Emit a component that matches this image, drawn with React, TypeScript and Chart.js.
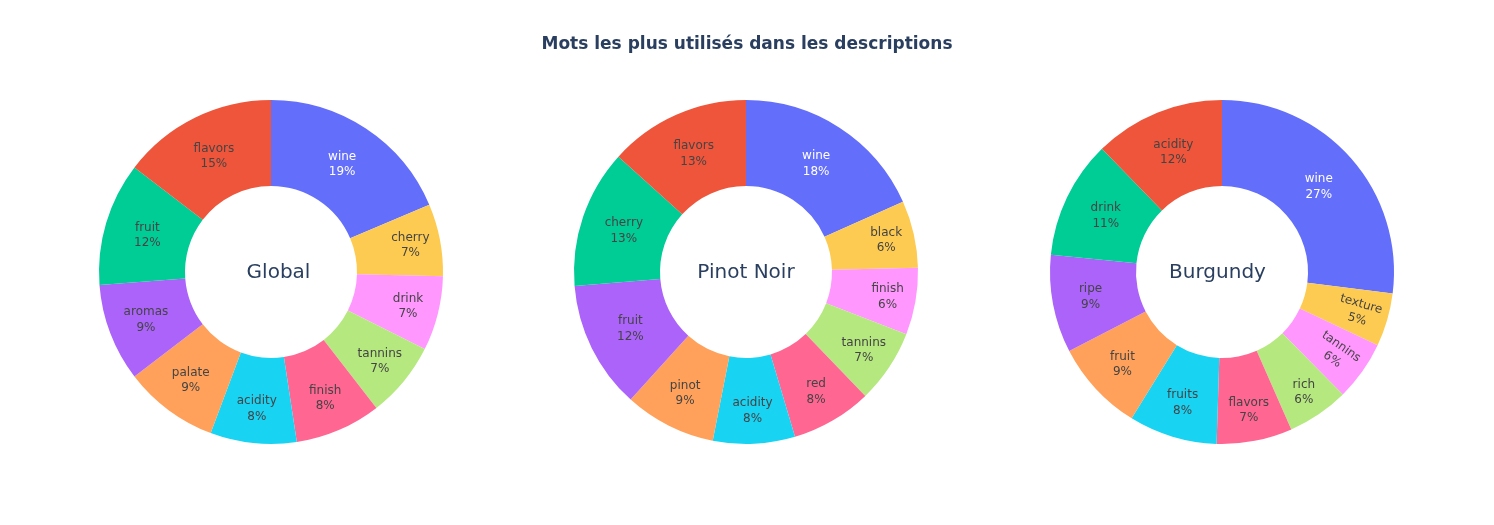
import React, { useEffect, useRef } from "react";
import { Chart, registerables } from "chart.js";

Chart.register(...registerables);

// ---- data (slices listed clockwise from 12 o'clock) ----
const titleText = "Mots les plus utilisés dans les descriptions";
const chartNames = ["Global", "Pinot Noir", "Burgundy"];

const globalWords = ["wine", "cherry", "drink", "tannins", "finish", "acidity", "palate", "aromas", "fruit", "flavors"];
const globalShares = [18.6, 6.8, 7.0, 7.1, 8.1, 8.1, 8.9, 9.2, 11.6, 14.6];

const pinotWords = ["wine", "black", "finish", "tannins", "red", "acidity", "pinot", "fruit", "cherry", "flavors"];
const pinotShares = [18.3, 6.3, 6.3, 6.9, 7.6, 7.7, 8.6, 12.0, 13.0, 13.3];

const burgundyWords = ["wine", "texture", "tannins", "rich", "flavors", "fruits", "fruit", "ripe", "drink", "acidity"];
const burgundyShares = [27.0, 5.0, 5.6, 5.8, 7.1, 8.3, 8.6, 9.2, 11.1, 12.3];

const sliceColors = ["#636efa", "#FECB52", "#FF97FF", "#B6E880", "#FF6692", "#19d3f3", "#FFA15A", "#ab63fa", "#00cc96", "#EF553B"];

// ---- layout ----
const W = 1494;
const H = 525;
const R = 172;
const CY = 272;
const centersX = [271, 746, 1222];
const nameOffsets = [7.5, 0, -4.5];
const FONT = "'DejaVu Sans', Verdana, sans-serif";

function isLight(hex: string) {
  const h = hex.replace("#", "");
  const r = parseInt(h.slice(0, 2), 16);
  const g = parseInt(h.slice(2, 4), 16);
  const b = parseInt(h.slice(4, 6), 16);
  return (r * 299 + g * 587 + b * 114) / 1000 >= 128;
}

const donutText = {
  id: "donutText",
  afterDatasetsDraw(chart: any, _args: any, opts: any) {
    const ctx = chart.ctx as CanvasRenderingContext2D;
    const meta = chart.getDatasetMeta(0);
    const ds = chart.data.datasets[0];
    const values = ds.data as number[];
    const total = values.reduce((a, b) => a + b, 0);
    const labels = chart.data.labels as string[];
    const colors = ds.backgroundColor as string[];
    ctx.save();
    ctx.font = `12px ${FONT}`;
    ctx.textAlign = "center";
    ctx.textBaseline = "middle";
    meta.data.forEach((arc: any, i: number) => {
      const p = arc.getProps(["x", "y", "startAngle", "endAngle", "innerRadius", "outerRadius"], true);
      const half = (p.endAngle - p.startAngle) / 2;
      const mid = p.startAngle + half;
      const ring = (p.outerRadius - p.innerRadius) / p.outerRadius;
      const rIns = Math.min(1 / (1 + 1 / Math.sin(half)), ring / 2);
      const l1 = labels[i];
      const l2 = Math.round((values[i] / total) * 100) + "%";
      const w = Math.max(ctx.measureText(l1).width, ctx.measureText(l2).width);
      const h = 30;
      const diag = Math.hypot(w, h);
      let rot = 0;
      let rc = (1 - rIns) * p.outerRadius;
      if (rIns * p.outerRadius * 2 < diag) {
        rot = mid;
        while (rot > Math.PI / 2) rot -= Math.PI;
        while (rot <= -Math.PI / 2) rot += Math.PI;
        rc -= 6;
      }
      const tx = p.x + rc * Math.cos(mid);
      const ty = p.y + rc * Math.sin(mid);
      ctx.save();
      ctx.translate(tx, ty);
      ctx.rotate(rot);
      ctx.fillStyle = isLight(colors[i]) ? "#444444" : "#ffffff";
      ctx.fillText(l1, 0, -7.8);
      ctx.fillText(l2, 0, 7.8);
      ctx.restore();
    });
    // center name
    const a = chart.chartArea;
    ctx.font = `20px ${FONT}`;
    ctx.fillStyle = "#2a3f5f";
    ctx.fillText(opts.name, (a.left + a.right) / 2 + opts.offsetX, (a.top + a.bottom) / 2 + 1);
    // figure title
    if (opts.title) {
      ctx.font = `bold 17px ${FONT}`;
      ctx.fillStyle = "#2a3f5f";
      ctx.fillText(opts.title, chart.width / 2, 45);
    }
    ctx.restore();
  },
};

export default function App() {
  const refs = [useRef<HTMLCanvasElement>(null), useRef<HTMLCanvasElement>(null), useRef<HTMLCanvasElement>(null)];

  useEffect(() => {
    const sets = [
      { words: globalWords, shares: globalShares },
      { words: pinotWords, shares: pinotShares },
      { words: burgundyWords, shares: burgundyShares },
    ];
    const charts = sets.map((s, i) => {
      const canvas = refs[i].current!;
      const cx = centersX[i];
      return new Chart(canvas, {
        type: "doughnut",
        data: {
          labels: s.words,
          datasets: [
            {
              data: s.shares,
              backgroundColor: sliceColors,
              borderWidth: 0,
              hoverOffset: 0,
            },
          ],
        },
        options: {
          responsive: false,
          animation: false,
          devicePixelRatio: 1,
          cutout: "50%",
          rotation: 0,
          layout: {
            padding: {
              left: cx - R,
              right: W - cx - R,
              top: CY - R,
              bottom: H - CY - R,
            },
          },
          plugins: {
            legend: { display: false },
            tooltip: { enabled: false },
            title: { display: false },
            donutText: { name: chartNames[i], offsetX: nameOffsets[i], title: i === 1 ? titleText : "" },
          } as any,
        },
        plugins: [donutText as any],
      });
    });
    return () => charts.forEach((c) => c.destroy());
  }, []);

  return (
    <div style={{ position: "absolute", left: 0, top: 0, width: W, height: H, background: "#fff" }}>
      {refs.map((r, i) => (
        <canvas
          key={i}
          ref={r}
          width={W}
          height={H}
          style={{ position: "absolute", left: 0, top: 0, width: W, height: H }}
        />
      ))}
    </div>
  );
}
